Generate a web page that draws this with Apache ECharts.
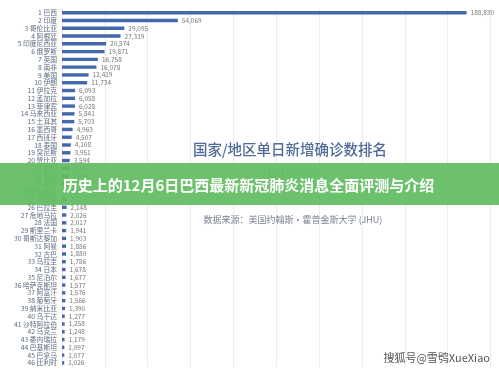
<!DOCTYPE html>
<html><head><meta charset="utf-8">
<script src="https://cdn.jsdelivr.net/npm/echarts@6/dist/echarts.min.js"></script>
<style>html,body{margin:0;padding:0;background:#fff}#c{width:499px;height:371px}</style>
</head><body><div id="c"></div>
<script>
const countries = ["巴西","印度","哥伦比亚","阿根廷","印度尼西亚","俄罗斯","英国","南非","美国","伊朗",
"伊拉克","孟加拉","菲律宾","马来西亚","土耳其","墨西哥","西班牙","泰国","突尼斯","赞比亚",
"智利","秘鲁","蒙古","玻利维亚","阿联酋","巴拉圭","危地马拉","法国","斯里兰卡","哥斯达黎加",
"阿曼","古巴","乌拉圭","日本","尼泊尔","哈萨克斯坦","阿富汗","葡萄牙","纳米比亚","乌干达",
"沙特阿拉伯","乌克兰","委内瑞拉","巴基斯坦","巴拿马","比利时"];
const cases = [188830,54069,29095,27319,20574,19871,16758,16078,12419,11734,
6093,6058,6028,5841,5703,4963,4507,4108,3951,3594,
3453,2942,2612,2314,2161,2148,2026,2017,1941,1903,
1886,1880,1786,1678,1677,1577,1576,1566,1390,1277,
1258,1248,1179,1097,1077,1026];
const xTicks = {min:0, max:200000, interval:20000};
const titleText = "国家/地区单日新增确诊数排名";
const subText = "（超过1,000例）";
const sourceText = "数据来源：美国约翰斯·霍普金斯大学 (JHU)";
const bannerText = "历史上的12月6日巴西最新新冠肺炎消息全面评测与介绍";
const watermark = "搜狐号@雪鸮XueXiao";

const labels = countries.map((c,i)=>(i+1)+" "+c);
const chart = echarts.init(document.getElementById('c'));
const font = '"Noto Sans CJK SC", sans-serif';
chart.setOption({
  animation:false,
  backgroundColor:'#fff',
  textStyle:{fontFamily:font},
  grid:{left:62,right:8.5,top:8.8,bottom:4.2,containLabel:false},
  xAxis:{type:'value',min:xTicks.min,max:xTicks.max,interval:xTicks.interval,
    axisLabel:{show:false},axisLine:{show:false},axisTick:{show:false},
    splitLine:{show:true,lineStyle:{color:'#ececec',width:1}}},
  yAxis:{type:'category',inverse:true,data:labels,
    axisLine:{show:false},axisTick:{show:false},
    axisLabel:{interval:0,hideOverlap:false,fontSize:6.8,color:'#5d6b80',margin:5,fontFamily:font}},
  series:[{type:'bar',data:cases,barWidth:3.4,
    itemStyle:{color:'#4468ae'},
    label:{show:true,position:'right',distance:4,fontSize:6.5,color:'#777',
      fontFamily:font,formatter:p=>p.value.toLocaleString('en-US')}}],
  graphic:[
    {type:'text',z:10,style:{text:titleText,x:290,y:149,fill:'#4f6b97',font:'500 14.5px '+font,textAlign:'center',textVerticalAlign:'middle'}},
    {type:'text',z:10,style:{text:subText,x:292,y:173,fill:'#8a94a6',font:'9px '+font,textAlign:'center',textVerticalAlign:'middle'}},
    {type:'rect',z:20,shape:{x:0,y:163,width:499,height:42},style:{fill:'rgba(98,188,98,0.93)'}},
    {type:'text',z:21,style:{text:bannerText,x:248.5,y:185,fill:'#fff',font:'bold 15px '+font,textAlign:'center',textVerticalAlign:'middle'}},
    {type:'text',z:10,style:{text:sourceText,x:293,y:220,fill:'#7a8190',font:'9px '+font,textAlign:'center',textVerticalAlign:'middle'}},
    {type:'text',z:10,style:{text:watermark,x:490,y:358,fill:'#555',font:'11px '+font,textAlign:'right',textVerticalAlign:'middle'}}
  ]
});
</script></body></html>
